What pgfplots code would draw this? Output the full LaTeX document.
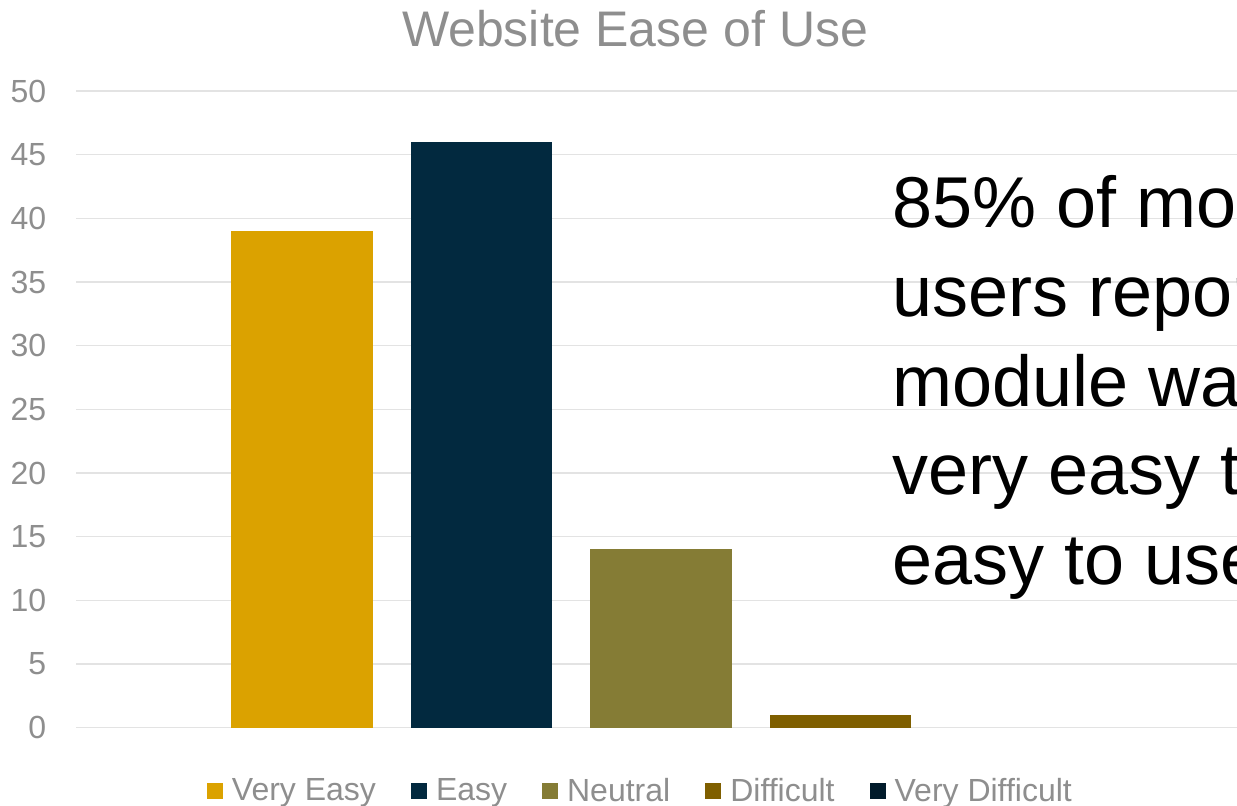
\documentclass[border=0pt]{standalone}
\usepackage{pgfplots}
\pgfplotsset{compat=1.18}
\usepackage{fontspec}
\setmainfont{Liberation Sans}
\definecolor{cVE}{HTML}{DBA200}
\definecolor{cE}{HTML}{02293F}
\definecolor{cN}{HTML}{857C35}
\definecolor{cD}{HTML}{7F5F00}
\definecolor{cVD}{HTML}{011B2B}
\definecolor{gridc}{HTML}{E3E3E3}
\definecolor{txtgray}{HTML}{8E8E8E}
\pgfplotsset{sqlegend/.style={legend image code/.code={\fill[##1] (0pt,-4pt) rectangle (8pt,4pt);}}}
\begin{document}
\begin{tikzpicture}[x=0.5pt,y=0.5pt]
\useasboundingbox (0,0) rectangle (1237,806);
\clip (0,0) rectangle (1237,806);
\begin{axis}[
  at={(38pt,39.15pt)}, anchor=south west,
  scale only axis, width=580.5pt, height=318.35pt,
  xmin=-1.259, xmax=5.209, ymin=0, ymax=50,
  ytick={0,5,...,50}, xtick=\empty,
  ymajorgrids, grid style={color=gridc, line width=0.75pt},
  axis line style={draw=none}, major tick length=0pt,
  tick label style={font=\fontsize{16}{18}\selectfont, text=txtgray},
  /pgf/number format/assume math mode=true,
  yticklabel style={anchor=east, inner sep=0pt, xshift=-14.75pt},
  ybar, bar width=0.791, bar shift=0pt,
  legend style={at={(0.487,-0.0994)}, anchor=center, draw=none, fill=none,
    legend columns=-1, font=\fontsize{16}{19}\selectfont, text=txtgray,
    /tikz/every odd column/.append style={column sep=2.5pt},
    /tikz/every even column/.append style={column sep=15.5pt}},
  legend cell align=left,
]
\addplot[fill=cVE, draw=none, sqlegend] coordinates {(0,39)};
\addplot[fill=cE, draw=none, sqlegend] coordinates {(1,46)};
\addplot[fill=cN, draw=none, sqlegend] coordinates {(2,14)};
\addplot[fill=cD, draw=none, sqlegend] coordinates {(3,1)};
\addplot[fill=none, draw=none, legend image code/.code={\fill[cVD] (0pt,-4pt) rectangle (8pt,4pt);}] coordinates {(4,0)};
\legend{Very Easy, Easy, Neutral, Difficult, Very Difficult}
\end{axis}
\node[anchor=base, text=txtgray, font=\fontsize{25}{30}\selectfont, inner sep=0pt] at (635,759) {Website Ease of Use};
\begin{scope}[every node/.style={anchor=base west, inner sep=0pt, font=\fontsize{36}{43}\selectfont}]
\node at (892,578) {85\% of most};
\node at (892,489) {users reported the};
\node at (892,399) {module was};
\node at (892,311) {very easy to};
\node at (892,221) {easy to use.};
\end{scope}
\end{tikzpicture}
\end{document}
